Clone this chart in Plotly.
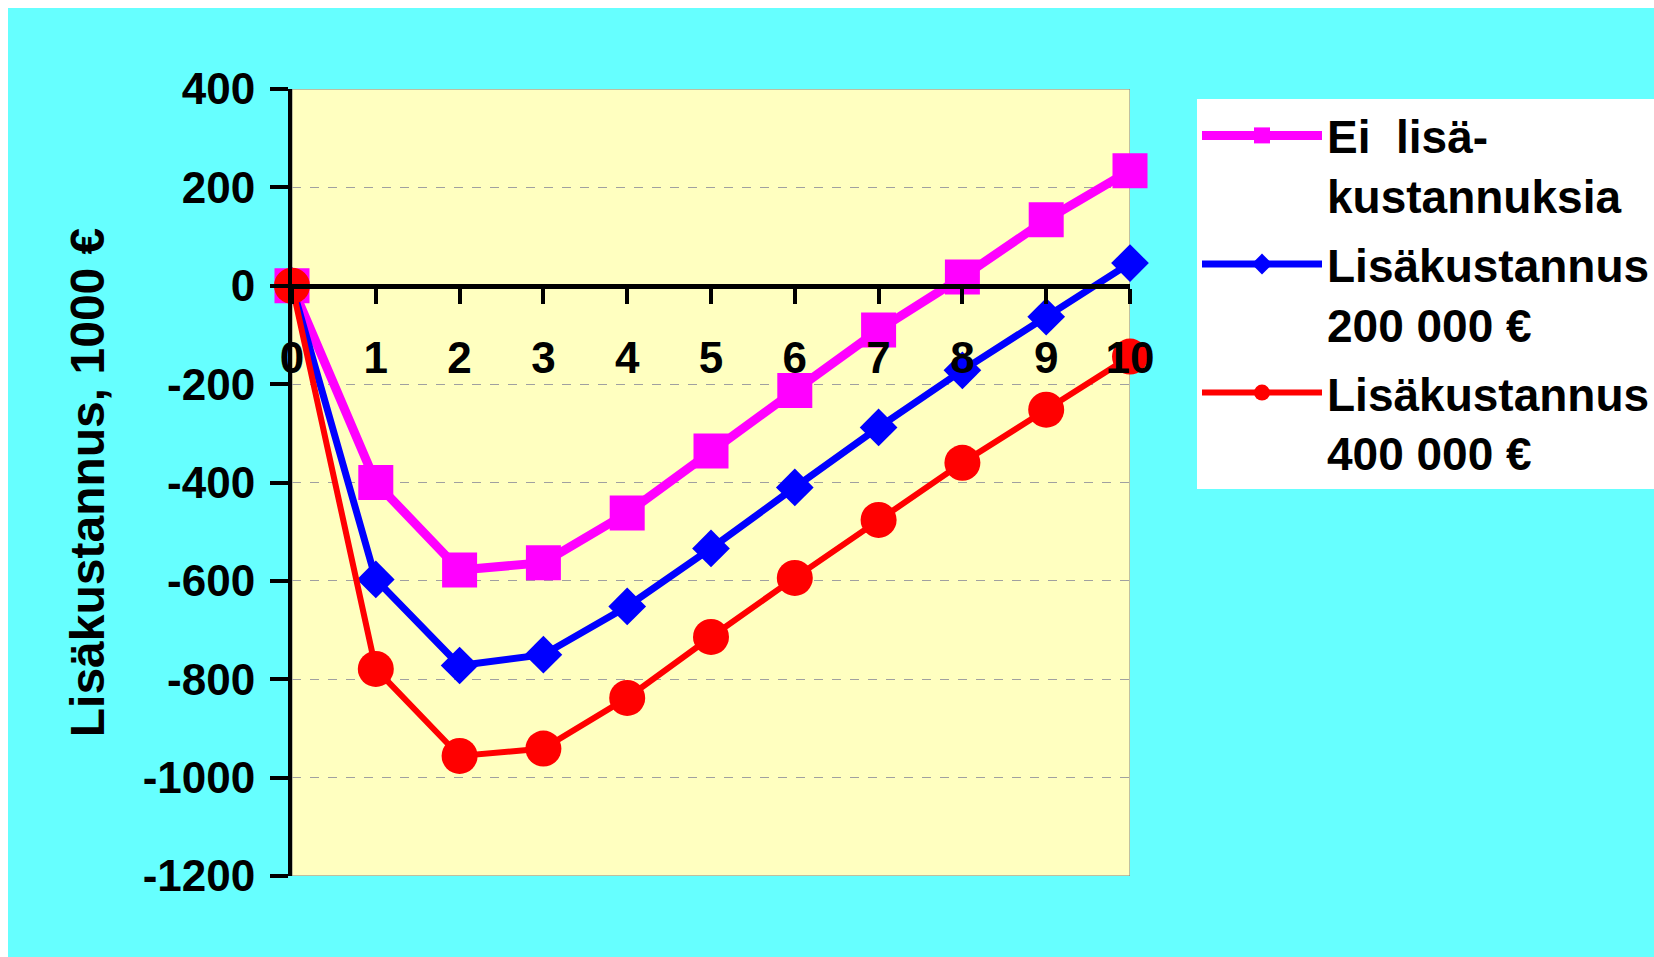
import plotly.graph_objects as go

years = [0, 1, 2, 3, 4, 5, 6, 7, 8, 9, 10]
ei_lisa = [0, -400, -578, -563, -462, -336, -213, -90, 18, 134, 234]
lisa_200 = [0, -597, -772, -750, -652, -534, -410, -288, -172, -63, 46]
lisa_400 = [0, -779, -956, -941, -838, -714, -594, -476, -360, -252, -144]

y_tickvals = [400, 200, 0, -200, -400, -600, -800, -1000, -1200]
y_ticktext = ["400", "200", "0", "-200", "-400", "-600", "-800", "-1000", "-1200"]

names = ["Ei\u00a0 lisä-<br>kustannuksia", "Lisäkustannus<br>200 000 €", "Lisäkustannus<br>400 000 €"]
y_title = "Lisäkustannus, 1000 €"

W, H = 1700, 1000
L, R, T, B = 284, 1122, 81, 868

FONT = "Liberation Sans, Arial, sans-serif"

fig = go.Figure()
fig.add_trace(go.Scatter(x=years, y=ei_lisa, name=names[0], mode="lines+markers",
                         legendgroup="a",
                         line=dict(color="#FF00FF", width=9),
                         marker=dict(symbol="square", size=35, color="#FF00FF"),
                         cliponaxis=False))
fig.add_trace(go.Scatter(x=years, y=lisa_200, name=names[1], mode="lines+markers",
                         legendgroup="b",
                         line=dict(color="#0000FF", width=7),
                         marker=dict(symbol="diamond", size=29, color="#0000FF"),
                         cliponaxis=False))
fig.add_trace(go.Scatter(x=years, y=lisa_400, name=names[2], mode="lines+markers",
                         legendgroup="c",
                         line=dict(color="#FF0000", width=6),
                         marker=dict(symbol="circle", size=36, color="#FF0000"),
                         cliponaxis=False))

pw, ph = R - L, B - T
def px_x(p):
    return (p - L) / pw
def px_y(p):
    return (B - p) / ph

shapes = [
    dict(type="rect", xref="x", yref="y", x0=0, x1=10, y0=-1200, y1=400,
         line=dict(color="#808080", width=1), layer="below"),
]

fig.update_layout(
    width=W, height=H,
    margin=dict(l=L, r=W - R, t=T, b=H - B, pad=0),
    paper_bgcolor="#66FFFF",
    plot_bgcolor="#FFFFC0",
    shapes=shapes,
    font=dict(family=FONT, color="black", size=44, weight="bold"),
    showlegend=True,
    legend=dict(x=px_x(1189), y=px_y(91), xanchor="left", yanchor="top",
                bgcolor="white", font=dict(family=FONT, size=46, weight="bold", color="black"),
                valign="top", itemwidth=120, tracegroupgap=6),
    xaxis=dict(range=[0, 10], dtick=1, tick0=0, anchor="free", position=0.75,
               showline=True, linecolor="black", linewidth=5,
               ticks="outside", ticklen=15, tickwidth=4, tickcolor="black",
               showgrid=False, zeroline=False,
               tickfont=dict(family=FONT, size=44, weight="bold", color="black"),
               ticklabelstandoff=16),
    yaxis=dict(range=[-1200, 400], tickvals=y_tickvals, ticktext=y_ticktext,
               showline=True, linecolor="black", linewidth=4,
               ticks="outside", ticklen=18, tickwidth=4, tickcolor="black",
               showgrid=True, gridcolor="#A0A0A0", gridwidth=1, griddash="dash",
               zeroline=False,
               tickfont=dict(family=FONT, size=44, weight="bold", color="black"),
               ticklabelstandoff=6,
               title=dict(text=y_title, standoff=24,
                          font=dict(family=FONT, size=48, weight="bold", color="black"))),
)

fig.write_html("out.html",
               post_script="document.documentElement.style.overflow='hidden';"
                           "document.body.style.overflow='hidden';"
                           "document.body.style.margin='8px 0 0 8px';")
